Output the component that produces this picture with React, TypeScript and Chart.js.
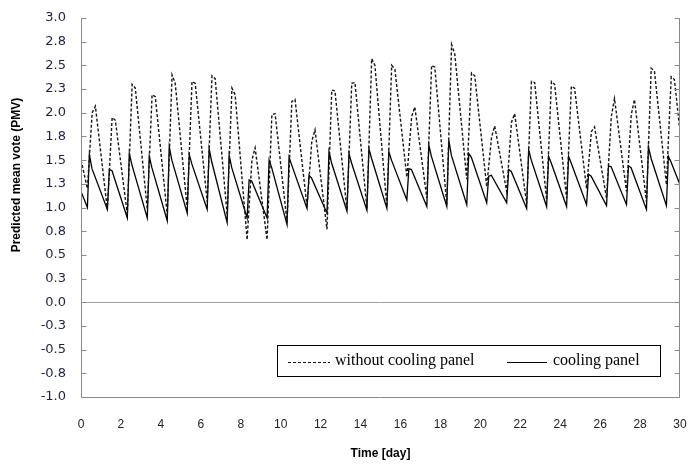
import React, { useEffect, useRef } from "react";
import { Chart, registerables } from "chart.js";

Chart.register(...registerables);

// ---- data ----
// x axis: time in days, y axis: PMV
const xTickLabels = [0, 2, 4, 6, 8, 10, 12, 14, 16, 18, 20, 22, 24, 26, 28, 30];
const yTickValues = [3.0, 2.75, 2.5, 2.25, 2.0, 1.75, 1.5, 1.25, 1.0, 0.75, 0.5, 0.25, 0.0, -0.25, -0.5, -0.75, -1.0];

// Per-day cycle readings (cycle n starts at its trough, at day n + troughOffset)
const troughOffset = 0.32;
const solidSpikeOffset = 0.42;
const solidShoulderOffset = 0.55;
const dashedPeakOffset = 0.56;
const dashedPeak2Offset = 0.72;

// cooling panel (solid)
const solidStart = 1.17;
const solidTrough = [1.0, 0.98, 0.89, 0.89, 0.86, 0.94, 0.98, 0.84, 0.89, 0.89, 0.82, 0.99, 0.94, 0.96, 0.97, 0.99, 1.08, 1.01, 1.01, 1.03, 1.05, 1.05, 0.99, 1.01, 1.01, 1.03, 1.02, 1.03, 0.98, 1.02];
const solidPeak = [1.56, 1.4, 1.57, 1.54, 1.64, 1.56, 1.62, 1.55, 1.29, 1.5, 1.53, 1.34, 1.59, 1.57, 1.62, 1.59, 1.41, 1.66, 1.71, 1.57, 1.33, 1.4, 1.61, 1.54, 1.54, 1.35, 1.44, 1.44, 1.64, 1.54];
const solidShoulder = [1.41, 1.39, 1.45, 1.42, 1.5, 1.46, 1.48, 1.42, 1.28, 1.42, 1.45, 1.31, 1.47, 1.47, 1.52, 1.5, 1.4, 1.54, 1.55, 1.53, 1.34, 1.38, 1.5, 1.47, 1.47, 1.33, 1.43, 1.42, 1.52, 1.48];
const solidEnd = 1.24;

// without cooling panel (dashed)
const dashedStart = 1.5;
const dashedTrough = [1.2, 0.98, 0.93, 0.98, 0.92, 0.99, 1.06, 0.92, 0.66, 0.66, 0.85, 1.01, 0.77, 0.97, 0.99, 1.01, 1.32, 1.1, 1.03, 1.3, 1.22, 1.17, 1.04, 1.08, 1.1, 1.2, 1.1, 1.17, 1.06, 1.24];
const dashedPeak = [2.0, 1.95, 2.3, 2.19, 2.4, 2.33, 2.39, 2.26, 1.5, 1.98, 2.12, 1.7, 2.24, 2.31, 2.57, 2.5, 1.96, 2.5, 2.72, 2.42, 1.74, 1.9, 2.33, 2.33, 2.28, 1.8, 1.96, 1.98, 2.47, 2.38];
const dashedPeak2 = [2.07, 1.92, 2.26, 2.17, 2.31, 2.31, 2.36, 2.19, 1.63, 1.99, 2.14, 1.82, 2.23, 2.32, 2.5, 2.46, 2.06, 2.48, 2.62, 2.39, 1.86, 1.99, 2.32, 2.3, 2.26, 1.85, 2.15, 2.14, 2.44, 2.35];
const dashedEnd = 1.8;

const seriesNames = ["without cooling panel", "cooling panel"];

function buildSolid() {
  const pts: { x: number; y: number }[] = [{ x: 0, y: solidStart }];
  for (let n = 0; n < solidTrough.length; n++) {
    pts.push({ x: n + troughOffset, y: solidTrough[n] });
    pts.push({ x: n + solidSpikeOffset, y: solidPeak[n] });
    pts.push({ x: n + solidShoulderOffset, y: solidShoulder[n] });
  }
  pts.push({ x: 30, y: solidEnd });
  return pts;
}

function buildDashed() {
  const pts: { x: number; y: number }[] = [{ x: 0, y: dashedStart }];
  for (let n = 0; n < dashedTrough.length; n++) {
    pts.push({ x: n + troughOffset, y: dashedTrough[n] });
    pts.push({ x: n + dashedPeakOffset, y: dashedPeak[n] });
    pts.push({ x: n + dashedPeak2Offset, y: dashedPeak2[n] });
  }
  pts.push({ x: 30, y: dashedEnd });
  return pts;
}

const axisGray = "#8a8a8a";

const decorPlugin = {
  id: "decor",
  beforeDatasetsDraw(chart: any) {
    const { ctx, chartArea } = chart;
    const y = chart.scales.y;
    ctx.save();
    // zero line
    const y0 = Math.round(y.getPixelForValue(0)) + 0.5;
    ctx.strokeStyle = "#a0a0a0";
    ctx.lineWidth = 1;
    ctx.beginPath();
    ctx.moveTo(chartArea.left, y0);
    ctx.lineTo(chartArea.right, y0);
    ctx.stroke();
    ctx.restore();
  },
  afterDraw(chart: any) {
    const { ctx, chartArea } = chart;
    const y = chart.scales.y;
    const L = Math.round(chartArea.left) + 0.5;
    const R = Math.round(chartArea.right) - 0.5;
    const T = Math.round(chartArea.top);
    const B = Math.round(chartArea.bottom) + 0.5;
    ctx.save();
    ctx.strokeStyle = axisGray;
    ctx.lineWidth = 1;
    ctx.beginPath();
    ctx.moveTo(L, T);
    ctx.lineTo(L, B);
    ctx.lineTo(R, B);
    ctx.moveTo(R, T);
    ctx.lineTo(R, B);
    yTickValues.forEach((v) => {
      const py = Math.round(y.getPixelForValue(v)) + 0.5;
      ctx.moveTo(L, py);
      ctx.lineTo(L + 5, py);
      ctx.moveTo(R, py);
      ctx.lineTo(R - 5, py);
    });
    ctx.stroke();

    // y axis title
    ctx.fillStyle = "#000";
    ctx.font = "bold 12px 'Liberation Sans', Arial, sans-serif";
    ctx.textAlign = "center";
    ctx.textBaseline = "middle";
    ctx.translate(17, 175);
    ctx.rotate(-Math.PI / 2);
    ctx.fillText("Predicted mean vote (PMV)", 0, 0);
    ctx.setTransform(1, 0, 0, 1, 0, 0);

    // legend box
    const bx = 277.5, by = 345.5, bw = 383, bh = 31;
    ctx.fillStyle = "#fff";
    ctx.fillRect(bx, by, bw, bh);
    ctx.strokeStyle = "#000";
    ctx.lineWidth = 1;
    ctx.strokeRect(bx, by, bw, bh);
    const ly = 362.5;
    ctx.strokeStyle = "#111";
    ctx.lineWidth = 1;
    ctx.setLineDash([3, 2]);
    ctx.beginPath();
    ctx.moveTo(288, ly);
    ctx.lineTo(330, ly);
    ctx.stroke();
    ctx.setLineDash([]);
    ctx.strokeStyle = "#000";
    ctx.beginPath();
    ctx.moveTo(507, ly);
    ctx.lineTo(547, ly);
    ctx.stroke();
    ctx.fillStyle = "#000";
    ctx.font = "16px 'Liberation Serif', 'Times New Roman', serif";
    ctx.textAlign = "left";
    ctx.textBaseline = "middle";
    ctx.fillText(seriesNames[0], 335, 361);
    ctx.fillText(seriesNames[1], 553, 361);
    ctx.restore();
  },
};

export default function App() {
  const ref = useRef<HTMLCanvasElement | null>(null);

  useEffect(() => {
    if (!ref.current) return;
    const chart = new Chart(ref.current, {
      type: "line",
      data: {
        datasets: [
          {
            label: seriesNames[0],
            data: buildDashed(),
            borderColor: "#151515",
            borderWidth: 1.4,
            borderDash: [3, 2],
            pointRadius: 0,
            tension: 0,
            fill: false,
          },
          {
            label: seriesNames[1],
            data: buildSolid(),
            borderColor: "#000",
            borderWidth: 1.3,
            pointRadius: 0,
            tension: 0,
            fill: false,
          },
        ],
      },
      options: {
        responsive: false,
        animation: false,
        parsing: true,
        layout: { padding: { top: 18, right: 8, left: 0, bottom: 0 } },
        plugins: {
          legend: { display: false },
          tooltip: { enabled: false },
        },
        scales: {
          x: {
            type: "linear",
            min: 0,
            max: 30,
            grid: { display: false, drawTicks: false },
            border: { display: false },
            afterBuildTicks: (scale: any) => {
              scale.ticks = xTickLabels.map((v) => ({ value: v }));
            },
            afterFit: (scale: any) => {
              scale.height = 69;
              scale.paddingLeft = 0;
              scale.paddingRight = 0;
            },
            ticks: {
              padding: 20,
              maxRotation: 0,
              autoSkip: false,
              color: "#222",
              font: { family: "'Liberation Sans', Arial, sans-serif", size: 12 },
              callback: (v: any) => String(v),
            },
            title: {
              display: true,
              text: "Time [day]",
              color: "#000",
              font: { family: "'Liberation Sans', Arial, sans-serif", size: 12, weight: "bold" },
              padding: { top: 0, bottom: 5 },
            },
          },
          y: {
            type: "linear",
            min: -1,
            max: 3,
            grid: { display: false, drawTicks: false },
            border: { display: false },
            afterBuildTicks: (scale: any) => {
              scale.ticks = yTickValues.map((v) => ({ value: v }));
            },
            afterFit: (scale: any) => {
              scale.width = 81;
              scale.paddingTop = 0;
              scale.paddingBottom = 0;
            },
            ticks: {
              padding: 15,
              autoSkip: false,
              color: "#1f1f45",
              font: { family: "'DejaVu Sans', Verdana, sans-serif", size: 13 },
              callback: (v: any) => Number(v).toFixed(1),
            },
          },
        },
      },
      plugins: [decorPlugin],
    } as any);
    return () => chart.destroy();
  }, []);

  return (
    <div style={{ position: "absolute", left: 0, top: 0, width: 688, height: 466, background: "#fff" }}>
      <canvas ref={ref} width={688} height={466} style={{ display: "block" }} />
    </div>
  );
}
